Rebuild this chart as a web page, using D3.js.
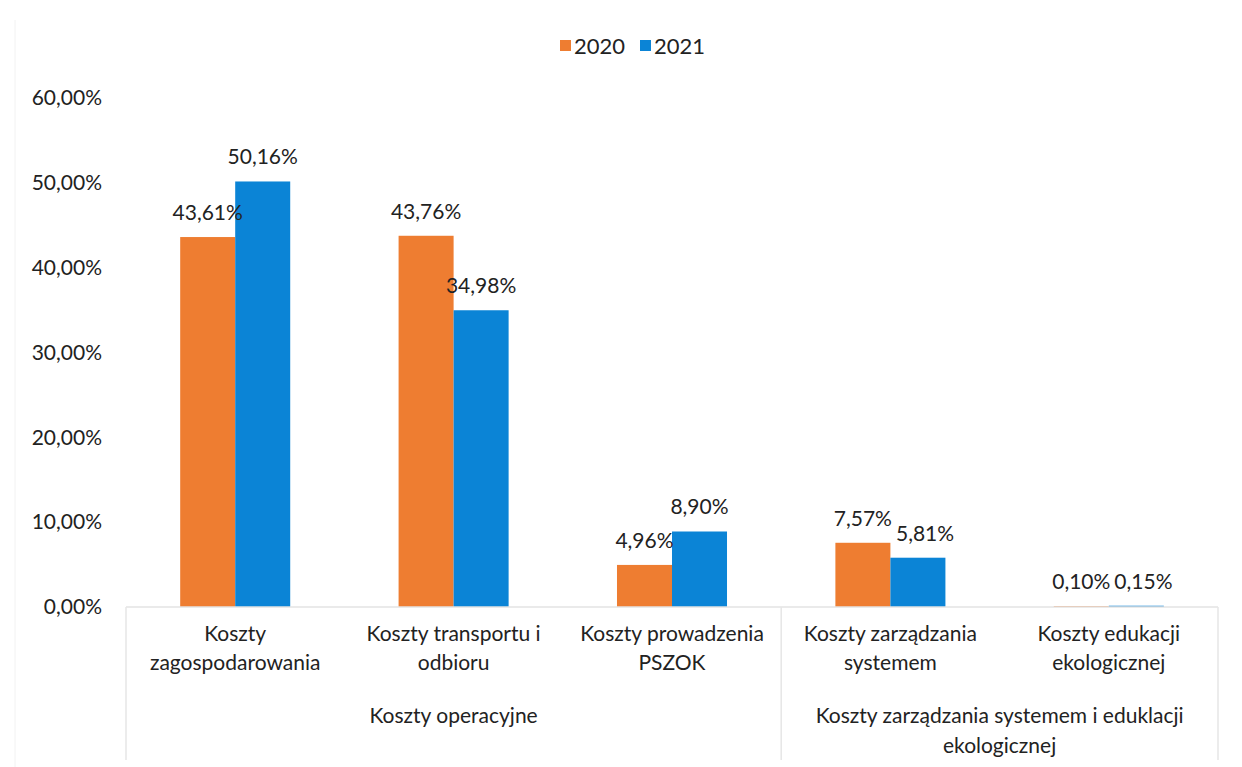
<!DOCTYPE html>
<html><head><meta charset="utf-8">
<script src="https://cdn.jsdelivr.net/npm/d3@7"></script>
<style>
html,body{margin:0;padding:0;background:#fff;}
svg{display:block;font-family:Lato,"Open Sans",sans-serif;}
</style></head>
<body><svg id="c" width="1242" height="767"></svg>
<script>
const categories = ["Koszty zagospodarowania","Koszty transportu i odbioru","Koszty prowadzenia PSZOK","Koszty zarządzania systemem","Koszty edukacji ekologicznej"];
const series = ["2020","2021"];
const values2020 = [43.61, 43.76, 4.96, 7.57, 0.10];
const values2021 = [50.16, 34.98, 8.90, 5.81, 0.15];
const groups = ["Koszty operacyjne","Koszty zarządzania systemem i eduklacji ekologicznej"];
const groupSpans = [[0,2],[3,4]];
const yTicks = [0,10,20,30,40,50,60];
const colors = ["#ee7d31","#0b84d6"];

const svg = d3.select("#c");
const W = 1242, H = 767;
const m = {left:126, right:24, top:98, bottom:160};
const plotBottom = 607;
const x0 = d3.scaleBand().domain(categories).range([m.left, W - m.right]).padding(0);
const x1 = d3.scaleBand().domain(series).range([0, x0.bandwidth()]).paddingInner(0).paddingOuter(0.985);
const y = d3.scaleLinear().domain([0,60]).range([plotBottom, m.top]);
const fmt = v => d3.format(".2f")(v).replace(".", ",") + "%";
const FS = 21;

// faint outer frame
svg.append("line").attr("x1",15).attr("x2",15).attr("y1",20).attr("y2",767).attr("stroke","#f2f2f2");

// y axis labels
const yAxis = d3.axisLeft(y).tickValues(yTicks).tickFormat(fmt).tickSize(0).tickPadding(0);
const gy = svg.append("g").attr("transform",`translate(102,0)`).call(yAxis);
gy.select(".domain").remove();
gy.selectAll("text").attr("font-size",FS).attr("fill","#222").attr("font-family","Lato");

// bars
const data = categories.map((c,i)=>({cat:c, vals:[values2020[i], values2021[i]]}));
const gCat = svg.selectAll(".cat").data(data).enter().append("g")
  .attr("transform", d=>`translate(${x0(d.cat)},0)`);
gCat.selectAll("rect").data(d=>d.vals.map((v,j)=>({s:series[j], v, j}))).enter().append("rect")
  .attr("x", d=>x1(d.s)).attr("width", x1.bandwidth())
  .attr("y", d=>y(d.v)).attr("height", d=>plotBottom - y(d.v))
  .attr("fill", d=>colors[d.j]);

// value labels with simple overlap avoidance
gCat.each(function(d){
  const g = d3.select(this);
  const labels = d.vals.map((v,j)=> g.append("text")
    .attr("x", x1(series[j]) + x1.bandwidth()/2)
    .attr("y", y(v) - 17)
    .attr("text-anchor","middle").attr("font-size",FS).attr("fill","#222")
    .text(fmt(v)));
  const b0 = labels[0].node().getBBox(), b1 = labels[1].node().getBBox();
  if (b0.x + b0.width + 2 > b1.x && Math.abs(b0.y - b1.y) < b0.height) {
    const shift = b0.x + b0.width + 4 - b1.x;
    labels[1].attr("x", +labels[1].attr("x") + shift);
  }
});

// baseline axis
svg.append("line").attr("x1", m.left).attr("x2", W - m.right).attr("y1", plotBottom).attr("y2", plotBottom)
  .attr("stroke","#e3e3e3").attr("stroke-width",1.5);

// wrap helper
function wrapText(sel, text, width, lineH){
  const words = text.split(" ");
  let line = [], lines = [];
  const t = sel.append("tspan");
  for (const w of words){
    line.push(w);
    t.text(line.join(" "));
    if (t.node().getComputedTextLength() > width && line.length > 1){
      line.pop(); lines.push(line.join(" ")); line = [w];
    }
  }
  lines.push(line.join(" "));
  t.remove();
  lines.forEach((l,i)=> sel.append("tspan").attr("x", sel.attr("x")).attr("dy", i===0?0:lineH).text(l));
}

// category labels
categories.forEach(c=>{
  const t = svg.append("text").attr("x", x0(c) + x0.bandwidth()/2).attr("y", 641)
    .attr("text-anchor","middle").attr("font-size",FS).attr("fill","#222");
  wrapText(t, c, 205, 29);
});

// group labels
groups.forEach((g,i)=>{
  const [a,b] = groupSpans[i];
  const xa = x0(categories[a]), xb = x0(categories[b]) + x0.bandwidth();
  const t = svg.append("text").attr("x", (xa+xb)/2).attr("y", 723)
    .attr("text-anchor","middle").attr("font-size",FS).attr("fill","#222");
  wrapText(t, g, xb - xa - 20, 30);
});

// separators
const seps = [x0(categories[0]), x0(categories[groupSpans[1][0]]), x0(categories[categories.length-1]) + x0.bandwidth()];
seps.forEach(sx=> svg.append("line").attr("x1",sx).attr("x2",sx).attr("y1",plotBottom).attr("y2",760)
  .attr("stroke","#e6e6e6").attr("stroke-width",1.5));

// legend
const leg = svg.append("g");
const legX = [560, 640];
series.forEach((s,i)=>{
  leg.append("rect").attr("x",legX[i]).attr("y",40).attr("width",11).attr("height",11).attr("fill",colors[i]);
  leg.append("text").attr("x",legX[i]+14).attr("y",54).attr("font-size",22).attr("fill","#222").text(s);
});
</script></body></html>
